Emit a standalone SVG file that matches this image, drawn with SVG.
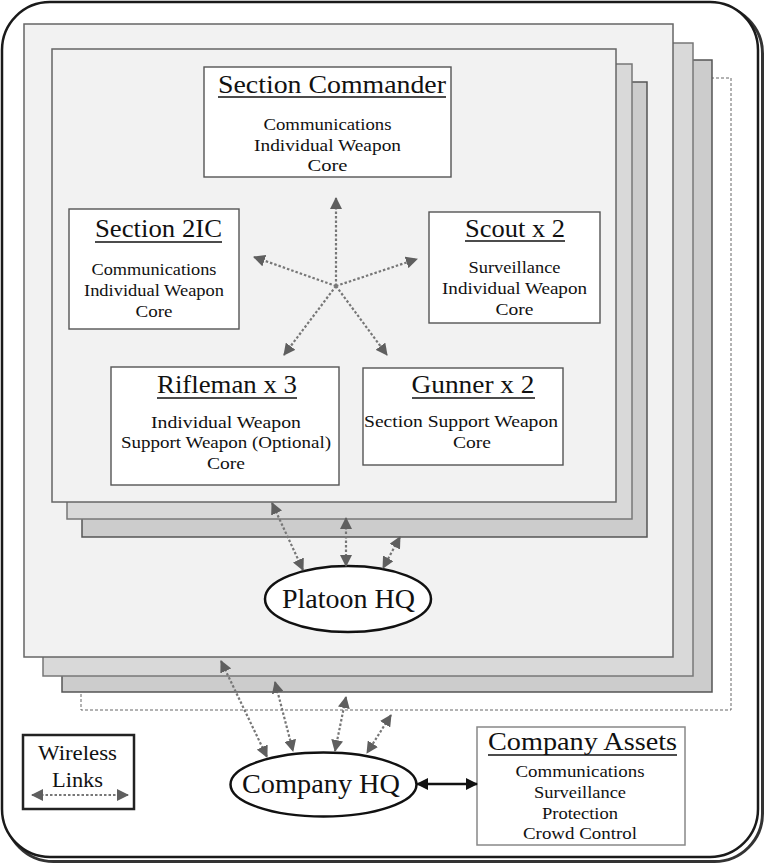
<svg xmlns="http://www.w3.org/2000/svg" width="765" height="865" viewBox="0 0 765 865">
<style>
text{font-family:"Liberation Serif","Times New Roman",serif;fill:#111;text-anchor:middle}
.t{font-size:25px}
.b{font-size:17px}
.hq{font-size:27px}
.lg{font-size:21px}
.box{fill:#fff;stroke:#555;stroke-width:1.4}
.ul{stroke:#111;stroke-width:1.5}
.l1{fill:#f2f2f2;stroke:#666;stroke-width:1.5}
.l2{fill:#d9d9d9;stroke:#777;stroke-width:1.5}
.l3{fill:#cccccc;stroke:#555;stroke-width:1.5}
.w{stroke:#777;stroke-width:2.2;stroke-dasharray:2.5 2;fill:none;marker-end:url(#ah)}
.w2{stroke:#777;stroke-width:2.2;stroke-dasharray:2.5 2;fill:none;marker-start:url(#ah);marker-end:url(#ah)}
.ell{fill:#fff;stroke:#111;stroke-width:2.5}
</style>
<defs>
<marker id="ah" viewBox="0 0 12 12" markerWidth="12" markerHeight="12" refX="11" refY="6" markerUnits="userSpaceOnUse" orient="auto-start-reverse">
<path d="M0,0 L12,6 L0,12 z" fill="#5f5f5f"/>
</marker>
<marker id="bh" viewBox="0 0 12 12" markerWidth="12" markerHeight="12" refX="11" refY="6" markerUnits="userSpaceOnUse" orient="auto-start-reverse">
<path d="M0,0 L12,6 L0,12 z" fill="#111"/>
</marker>
</defs>
<rect width="765" height="865" fill="#fff"/>
<g id="frame">
<rect x="5.5" y="5.5" width="757" height="856" rx="48" fill="none" stroke="#333" stroke-width="3"/>
<rect x="2" y="2" width="756" height="855" rx="48" fill="#fff" stroke="#1a1a1a" stroke-width="2.5"/>
</g>
<g id="platoon-layers">
<rect x="81" y="78" width="650" height="632" fill="none" stroke="#666" stroke-width="1" stroke-dasharray="3 2"/>
<rect class="l3" x="62" y="60" width="650" height="632"/>
<rect class="l2" x="43" y="43" width="650" height="633"/>
<rect class="l1" x="24" y="24" width="649" height="633"/>
</g>
<g id="section-layers">
<rect class="l3" x="82" y="82" width="565" height="455"/>
<rect class="l2" x="67" y="64" width="565" height="455"/>
<rect class="l1" x="52" y="49" width="564" height="453"/>
</g>
<g id="section-commander">
<rect class="box" x="204" y="67" width="247" height="110"/>
<text class="t" x="332" y="93" textLength="228" lengthAdjust="spacingAndGlyphs">Section Commander</text>
<line class="ul" x1="218" y1="97" x2="446" y2="97"/>
<text class="b" x="327.5" y="130" textLength="128" lengthAdjust="spacingAndGlyphs">Communications</text>
<text class="b" x="327.5" y="151" textLength="147" lengthAdjust="spacingAndGlyphs">Individual Weapon</text>
<text class="b" x="327.5" y="171" textLength="40" lengthAdjust="spacingAndGlyphs">Core</text>
</g>
<g id="section-2ic">
<rect class="box" x="69" y="209" width="170" height="120"/>
<text class="t" x="158.5" y="237" textLength="127" lengthAdjust="spacingAndGlyphs">Section 2IC</text>
<line class="ul" x1="95" y1="242" x2="222" y2="242"/>
<text class="b" x="154" y="275" textLength="125" lengthAdjust="spacingAndGlyphs">Communications</text>
<text class="b" x="154" y="296" textLength="140" lengthAdjust="spacingAndGlyphs">Individual Weapon</text>
<text class="b" x="154" y="317" textLength="37" lengthAdjust="spacingAndGlyphs">Core</text>
</g>
<g id="scout">
<rect class="box" x="429" y="212" width="171" height="111"/>
<text class="t" x="515" y="237" textLength="100" lengthAdjust="spacingAndGlyphs">Scout x 2</text>
<line class="ul" x1="465" y1="241" x2="565" y2="241"/>
<text class="b" x="514.5" y="273" textLength="92" lengthAdjust="spacingAndGlyphs">Surveillance</text>
<text class="b" x="514.5" y="294" textLength="145" lengthAdjust="spacingAndGlyphs">Individual Weapon</text>
<text class="b" x="514.5" y="315" textLength="38" lengthAdjust="spacingAndGlyphs">Core</text>
</g>
<g id="rifleman">
<rect class="box" x="111" y="367" width="228" height="118"/>
<text class="t" x="227" y="393" textLength="140" lengthAdjust="spacingAndGlyphs">Rifleman x 3</text>
<line class="ul" x1="157" y1="398" x2="297" y2="398"/>
<text class="b" x="226" y="428" textLength="150" lengthAdjust="spacingAndGlyphs">Individual Weapon</text>
<text class="b" x="226" y="448" textLength="210" lengthAdjust="spacingAndGlyphs">Support Weapon (Optional)</text>
<text class="b" x="226" y="469" textLength="38" lengthAdjust="spacingAndGlyphs">Core</text>
</g>
<g id="gunner">
<rect class="box" x="363" y="368" width="200" height="97"/>
<text class="t" x="473" y="393" textLength="123" lengthAdjust="spacingAndGlyphs">Gunner x 2</text>
<line class="ul" x1="412" y1="398" x2="535" y2="398"/>
<text class="b" x="461" y="427" textLength="194" lengthAdjust="spacingAndGlyphs">Section Support Weapon</text>
<text class="b" x="472" y="448" textLength="38" lengthAdjust="spacingAndGlyphs">Core</text>
</g>
<g id="platoon-hq">
<ellipse class="ell" cx="348" cy="599" rx="83" ry="33"/>
<text class="hq" x="348.5" y="608" textLength="133" lengthAdjust="spacingAndGlyphs">Platoon HQ</text>
</g>
<g id="company-hq">
<ellipse class="ell" cx="323.5" cy="784.5" rx="93" ry="32"/>
<text class="hq" x="321" y="793" textLength="158" lengthAdjust="spacingAndGlyphs">Company HQ</text>
</g>
<g id="company-assets">
<rect x="477" y="727" width="208" height="118" fill="#fff" stroke="#888" stroke-width="1.5"/>
<text class="t" x="582.5" y="750" textLength="189" lengthAdjust="spacingAndGlyphs">Company Assets</text>
<line class="ul" x1="488" y1="755" x2="677" y2="755"/>
<text class="b" x="580" y="777" textLength="129" lengthAdjust="spacingAndGlyphs">Communications</text>
<text class="b" x="580" y="798" textLength="92" lengthAdjust="spacingAndGlyphs">Surveillance</text>
<text class="b" x="580" y="819" textLength="76" lengthAdjust="spacingAndGlyphs">Protection</text>
<text class="b" x="580" y="839" textLength="114" lengthAdjust="spacingAndGlyphs">Crowd Control</text>
</g>
<g id="legend">
<rect x="23" y="735" width="111" height="74" fill="#fff" stroke="#222" stroke-width="2.5"/>
<text class="lg" x="77.5" y="760" textLength="79" lengthAdjust="spacingAndGlyphs">Wireless</text>
<text class="lg" x="77.5" y="787" textLength="51" lengthAdjust="spacingAndGlyphs">Links</text>
<line class="w2" x1="32" y1="795" x2="128" y2="795"/>
</g>
<g id="connectors">
<line class="w" x1="336" y1="286" x2="336" y2="198"/>
<line class="w" x1="336" y1="286" x2="254" y2="257"/>
<line class="w" x1="336" y1="286" x2="417" y2="259"/>
<line class="w" x1="336" y1="286" x2="284" y2="355"/>
<line class="w" x1="336" y1="286" x2="387" y2="355"/>
<line class="w2" x1="272" y1="503" x2="303" y2="570"/>
<line class="w2" x1="346" y1="518" x2="346" y2="566"/>
<line class="w2" x1="400" y1="537" x2="383" y2="568"/>
<line class="w2" x1="221" y1="661" x2="267" y2="757"/>
<line class="w2" x1="275" y1="682" x2="293" y2="751"/>
<line class="w2" x1="346" y1="697" x2="335" y2="751"/>
<line class="w2" x1="391" y1="715" x2="367" y2="753"/>
<line x1="417" y1="784" x2="477" y2="784" stroke="#111" stroke-width="2.5" marker-start="url(#bh)" marker-end="url(#bh)"/>
</g>
</svg>
